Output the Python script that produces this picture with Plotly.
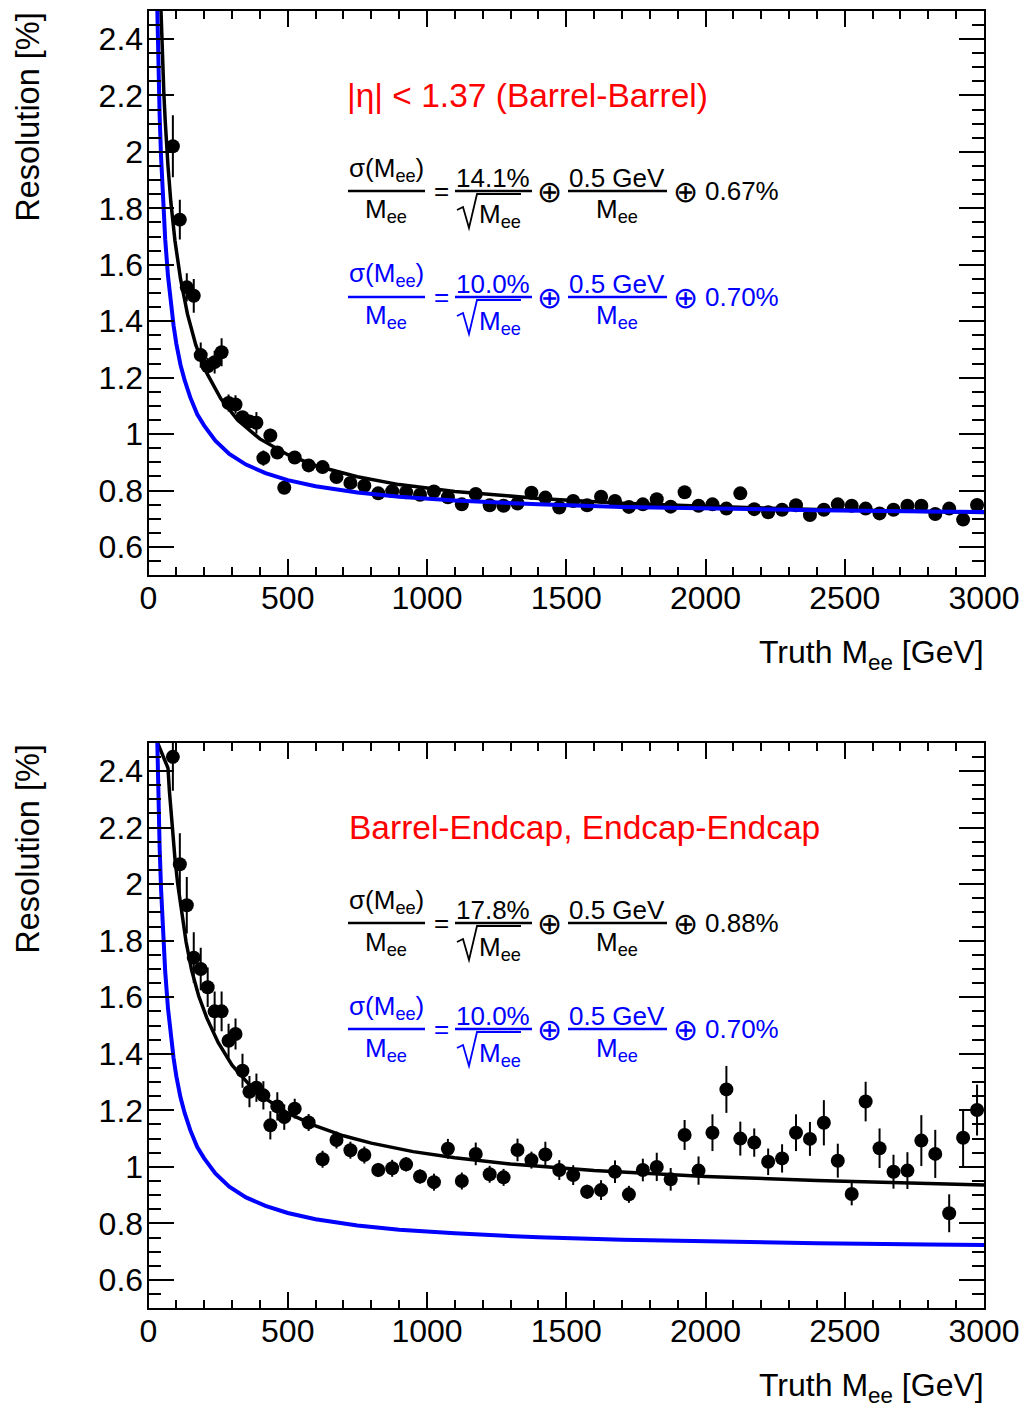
import plotly.graph_objects as go

# ---------------- data ----------------
mass_bins = [87.5, 112.5, 137.5, 162.5, 187.5, 212.5, 237.5, 262.5, 287.5, 312.5,
             337.5, 362.5, 387.5, 412.5, 437.5, 462.5, 487.5,
             525, 575, 625, 675, 725, 775, 825, 875, 925, 975,
             1025, 1075, 1125, 1175, 1225, 1275, 1325, 1375, 1425, 1475,
             1525, 1575, 1625, 1675, 1725, 1775, 1825, 1875, 1925, 1975,
             2025, 2075, 2125, 2175, 2225, 2275, 2325, 2375, 2425, 2475,
             2525, 2575, 2625, 2675, 2725, 2775, 2825, 2875, 2925, 2975]

bb_res = [2.02, 1.76, 1.52, 1.49, 1.28, 1.24, 1.255, 1.29, 1.11, 1.105,
          1.06, 1.045, 1.04, 0.915, 0.995, 0.935, 0.81,
          0.917, 0.889, 0.883, 0.848, 0.827, 0.817, 0.79, 0.798, 0.794, 0.785,
          0.797, 0.776, 0.751, 0.788, 0.748, 0.746, 0.754, 0.792, 0.775, 0.74,
          0.763, 0.748, 0.778, 0.763, 0.742, 0.751, 0.769, 0.743, 0.794, 0.746,
          0.751, 0.736, 0.79, 0.734, 0.723, 0.732, 0.748, 0.713, 0.732, 0.751,
          0.746, 0.736, 0.719, 0.732, 0.746, 0.746, 0.717, 0.736, 0.697, 0.749]
bb_err = [0.11, 0.07, 0.05, 0.06, 0.045, 0.03, 0.04, 0.05, 0.03, 0.033,
          0.02, 0.02, 0.038, 0.027, 0.024, 0.02, 0.015,
          0.015, 0.012, 0.012, 0.01, 0.01, 0.01, 0.01, 0.01, 0.01, 0.01,
          0.01, 0.01, 0.01, 0.01, 0.01, 0.01, 0.01, 0.01, 0.01, 0.01,
          0.01, 0.01, 0.01, 0.01, 0.01, 0.01, 0.01, 0.01, 0.01, 0.01,
          0.01, 0.01, 0.01, 0.01, 0.01, 0.01, 0.01, 0.01, 0.01, 0.01,
          0.01, 0.01, 0.01, 0.01, 0.01, 0.01, 0.01, 0.01, 0.01, 0.01]

be_res = [2.45, 2.07, 1.925, 1.74, 1.70, 1.635, 1.55, 1.55, 1.446, 1.47,
          1.34, 1.266, 1.28, 1.253, 1.147, 1.214, 1.176,
          1.206, 1.157, 1.027, 1.095, 1.059, 1.042, 0.989, 0.995, 1.009, 0.966,
          0.946, 1.064, 0.95, 1.046, 0.974, 0.963, 1.06, 1.024, 1.044, 0.989,
          0.971, 0.912, 0.918, 0.983, 0.903, 0.989, 1.0, 0.956, 1.113, 0.987,
          1.121, 1.274, 1.10, 1.086, 1.018, 1.03, 1.121, 1.099, 1.156, 1.022,
          0.904, 1.231, 1.066, 0.983, 0.987, 1.093, 1.046, 0.836, 1.103, 1.201]
be_err = [0.12, 0.11, 0.10, 0.09, 0.075, 0.07, 0.07, 0.07, 0.06, 0.055,
          0.06, 0.055, 0.05, 0.05, 0.05, 0.05, 0.045,
          0.035, 0.03, 0.03, 0.03, 0.03, 0.03, 0.025, 0.03, 0.025, 0.025,
          0.03, 0.035, 0.03, 0.04, 0.03, 0.03, 0.04, 0.03, 0.045, 0.035,
          0.035, 0.025, 0.035, 0.04, 0.03, 0.04, 0.05, 0.04, 0.053, 0.05,
          0.065, 0.083, 0.06, 0.05, 0.047, 0.05, 0.065, 0.06, 0.08, 0.06,
          0.04, 0.07, 0.07, 0.06, 0.065, 0.09, 0.085, 0.067, 0.1, 0.09]

# fitted curves
bb_fit_mass = [40, 44, 50, 55, 60, 65, 70, 80, 95, 115, 140, 170, 210, 260, 320, 400,
               500, 600, 750, 900, 1100, 1400, 1700, 2000, 2400, 2800, 3000]
bb_fit_res = [2.64, 2.50, 2.33, 2.21, 2.11, 2.025, 1.95, 1.825, 1.685, 1.55, 1.425, 1.315,
              1.215, 1.125, 1.05, 0.983, 0.927, 0.888, 0.849, 0.821, 0.797, 0.772, 0.755,
              0.744, 0.733, 0.726, 0.722]

be_fit_mass = [20, 70, 75, 80, 85, 90, 95, 105, 120, 135, 155, 180, 210, 250, 300, 360, 430,
               500, 600, 700, 800, 950, 1100, 1300, 1600, 2000, 2400, 2800, 3000]
be_fit_res = [2.53, 2.41, 2.33, 2.26, 2.20, 2.145, 2.09, 2.0, 1.89, 1.795, 1.695, 1.605,
              1.525, 1.44, 1.36, 1.293, 1.235, 1.19, 1.145, 1.11, 1.084, 1.054, 1.032,
              1.01, 0.987, 0.966, 0.952, 0.942, 0.936]

ref_mass = [25, 30, 35, 40, 45, 50, 60, 70, 80, 90, 100, 115, 130, 150, 175, 200, 240, 290,
            350, 420, 500, 600, 750, 900, 1100, 1400, 1700, 2000, 2400, 2800, 3000]
ref_res = [2.80, 2.52, 2.30, 2.13, 1.985, 1.865, 1.69, 1.56, 1.46, 1.385, 1.32, 1.245, 1.19,
           1.13, 1.07, 1.03, 0.977, 0.93, 0.892, 0.862, 0.837, 0.815, 0.793, 0.778, 0.765,
           0.751, 0.742, 0.736, 0.73, 0.726, 0.724]

panel_labels = ["|η| < 1.37 (Barrel-Barrel)", "Barrel-Endcap, Endcap-Endcap"]
fit_stoch = ["14.1%", "17.8%"]
fit_const = ["0.67%", "0.88%"]
ref_stoch = "10.0%"
ref_const = "0.70%"
noise_term = "0.5 GeV"

# ---------------- layout helpers ----------------
W, H = 1029, 1407
FONT = "Liberation Sans, Arial, Helvetica, sans-serif"
BLUE = "#0000ff"
RED = "#ff0000"


def px(x):
    return x / W


def py(y):
    return 1 - y / H


fig = go.Figure()
annotations = []
shapes = []


def txt(x, y, text, size, color="black", xanchor="center", yanchor="middle", angle=0):
    annotations.append(dict(x=px(x), y=py(y), xref="paper", yref="paper", text=text,
                            showarrow=False, xanchor=xanchor, yanchor=yanchor,
                            textangle=angle,
                            font=dict(family=FONT, size=size, color=color)))


def hline(x0, x1, y, color, width=2.5):
    shapes.append(dict(type="line", xref="paper", yref="paper", x0=px(x0), x1=px(x1),
                       y0=py(y), y1=py(y), line=dict(color=color, width=width)))


def sqrt_sign(xs, ys, color):
    pts = list(zip(xs, ys))
    path = "M " + " L ".join(f"{px(a):.5f},{py(b):.5f}" for a, b in pts)
    shapes.append(dict(type="path", xref="paper", yref="paper", path=path,
                       line=dict(color=color, width=1.8)))


def formula(dy, color, stoch, const):
    fs = 26
    yb = 191 + dy
    txt(386, yb - 22, "σ(M<sub>ee</sub>)", fs, color)
    hline(348, 425, yb, color)
    txt(386, yb + 20, "M<sub>ee</sub>", fs, color)
    txt(441, yb, "=", fs, color)
    txt(493, yb - 13, stoch, fs, color)
    hline(455, 532, yb, color)
    sqrt_sign([457, 463, 469, 477, 521], [yb + 19, yb + 16, yb + 37, yb + 3, yb + 3], color)
    txt(500, yb + 25, "M<sub>ee</sub>", fs, color)
    txt(549, yb, "⊕", 30, color)
    txt(617, yb - 13, noise_term, fs, color)
    hline(568, 667, yb, color)
    txt(617, yb + 20, "M<sub>ee</sub>", fs, color)
    txt(685, yb, "⊕", 30, color)
    txt(742, yb, const, fs, color)


panels = [
    dict(xa="x", ya="y", top=10.8, bottom=575.2, dy=0, res=bb_res, err=bb_err,
         fm=bb_fit_mass, fr=bb_fit_res),
    dict(xa="x2", ya="y2", top=742.7, bottom=1308.3, dy=732, res=be_res, err=be_err,
         fm=be_fit_mass, fr=be_fit_res),
]

for i, p in enumerate(panels):
    fig.add_trace(go.Scatter(
        x=mass_bins, y=p["res"], mode="markers", xaxis=p["xa"], yaxis=p["ya"],
        marker=dict(color="black", size=14),
        error_y=dict(type="data", array=p["err"], width=0, thickness=2, color="black"),
        showlegend=False))
    fig.add_trace(go.Scatter(x=p["fm"], y=p["fr"], mode="lines", xaxis=p["xa"], yaxis=p["ya"],
                             line=dict(color="black", width=3.5), showlegend=False))
    fig.add_trace(go.Scatter(x=ref_mass, y=ref_res, mode="lines", xaxis=p["xa"], yaxis=p["ya"],
                             line=dict(color=BLUE, width=4), showlegend=False))

    sfx = "" if i == 0 else "2"
    fig.layout["xaxis" + sfx] = dict(
        domain=[px(148.5), px(984)], anchor="y" + sfx, range=[0, 3000], automargin=False,
        tick0=0, dtick=500, ticks="inside", ticklen=16, tickwidth=1.5, tickcolor="black",
        showline=True, linewidth=2, linecolor="black", mirror="ticks",
        showgrid=False, zeroline=False, ticklabelstandoff=-7,
        tickfont=dict(family=FONT, size=32, color="black"),
        minor=dict(dtick=100, ticks="inside", ticklen=8, tickwidth=1.5, tickcolor="black",
                   showgrid=False))
    fig.layout["yaxis" + sfx] = dict(
        domain=[py(p["bottom"]), py(p["top"])], anchor="x" + sfx, range=[0.5, 2.5],
        automargin=False, ticklabelstandoff=-3,
        tick0=0, dtick=0.2, ticks="inside", ticklen=25, tickwidth=1.5, tickcolor="black",
        showline=True, linewidth=2, linecolor="black", mirror="ticks",
        showgrid=False, zeroline=False,
        tickfont=dict(family=FONT, size=32, color="black"),
        minor=dict(dtick=0.05, ticks="inside", ticklen=12, tickwidth=1.5, tickcolor="black",
                   showgrid=False))

    dy = p["dy"]
    txt(28, p["top"] - 1, "Resolution [%]", 32.5, angle=-90, yanchor="top")
    txt(986, 655 + dy, "Truth M<sub>ee</sub> [GeV]", 32, xanchor="right")
    txt(527 if i == 0 else 584, 96 + dy, panel_labels[i], 33.5, RED)
    formula(dy, "black", fit_stoch[i], fit_const[i])
    formula(dy + 106, BLUE, ref_stoch, ref_const)

fig.update_layout(
    width=W, height=H, autosize=False, margin=dict(l=0, r=0, t=0, b=0, pad=0),
    paper_bgcolor="white", plot_bgcolor="white",
    annotations=annotations, shapes=shapes,
    font=dict(family=FONT, color="black"))

fig.write_html("out.html")
